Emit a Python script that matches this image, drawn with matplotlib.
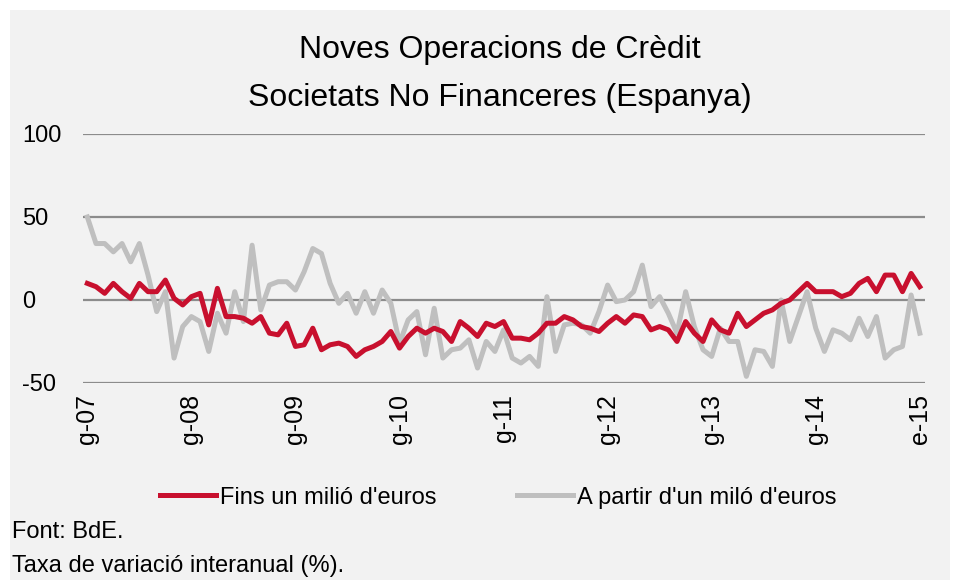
import matplotlib.pyplot as plt
from matplotlib.patches import Rectangle

# monthly series, jan 2007 .. jan 2015
fins_milio = [
    10, 8, 4, 10, 5, 1, 10, 5, 5, 12, 1, -3,
    2, 4, -15, 7, -10, -10, -11, -14, -10, -20, -21, -14,
    -28, -27, -17, -30, -27, -26, -28, -34, -30, -28, -25, -19,
    -29, -22, -17, -20, -17, -19, -25, -13, -17, -22, -14, -16,
    -13, -23, -23, -24, -20, -14, -14, -10, -12, -16, -17, -19,
    -14, -10, -14, -9, -10, -18, -16, -18, -25, -13, -20, -25,
    -12, -18, -20, -8, -16, -12, -8, -6, -2, 0, 5, 10,
    5, 5, 5, 2, 4, 10, 13, 5, 15, 15, 5, 16,
    8,
]
a_partir_milio = [
    50, 34, 34, 29, 34, 23, 34, 15, -7, 5, -35, -16,
    -10, -13, -31, -8, -20, 5, -13, 33, -6, 9, 11, 11,
    6, 17, 31, 28, 10, -2, 4, -8, 5, -8, 6, -2,
    -26, -12, -7, -33, -5, -35, -30, -29, -24, -41, -25, -31,
    -18, -35, -38, -34, -40, 2, -31, -15, -14, -15, -20, -7,
    9, -1, 0, 5, 21, -4, 2, -8, -20, 5, -16, -30,
    -34, -17, -25, -25, -46, -30, -31, -40, 0, -25, -10, 5,
    -17, -31, -18, -20, -24, -11, -22, -10, -35, -30, -28, 3,
    -20,
]
tick_labels = ['g-07', 'g-08', 'g-09', 'g-10', 'g-11', 'g-12', 'g-13', 'g-14', 'e-15']
y_ticks = [-50, 0, 50, 100]

plt.rcParams['font.family'] = ['Liberation Sans Narrow', 'Liberation Sans', 'DejaVu Sans']

bg = '#f2f2f2'
red = '#c8102e'
grey = '#bfbfbf'

fig = plt.figure(figsize=(9.54, 5.8), dpi=100, facecolor='white')
fig.patches.append(Rectangle((10 / 954, 0), 940 / 954, 570 / 580,
                             transform=fig.transFigure, facecolor=bg,
                             edgecolor='none', zorder=-10))

ax = fig.add_axes([0.087, 0.3397, 0.8826, 0.4293])
ax.set_facecolor(bg)
x = list(range(len(fins_milio)))
ax.plot(x, fins_milio, color=red, lw=3.6, label='Fins un milió d\'euros', zorder=3,
        solid_joinstyle='round')
ax.plot(x, a_partir_milio, color=grey, lw=3.6, label='A partir d\'un miló d\'euros', zorder=2,
        solid_joinstyle='round')

ax.set_ylim(-50, 100)
ax.set_xlim(-0.5, 96.6)
ax.set_yticks(y_ticks)
ax.set_yticklabels([str(v) for v in y_ticks], fontsize=17)
ax.set_xticks(range(0, 97, 12))
ax.set_xticklabels(tick_labels, rotation=90, fontsize=18)
ax.tick_params(axis='both', length=0)
ax.tick_params(axis='x', pad=8)
ax.tick_params(axis='y', pad=44)
for lbl in ax.get_yticklabels():
    lbl.set_horizontalalignment('left')
for v in y_ticks:
    ax.axhline(v, color='#8c8c8c', lw=1.6, zorder=1)
for s in ax.spines.values():
    s.set_visible(False)

fig.text(0.524, 0.914, 'Noves Operacions de Crèdit', ha='center', va='center', fontsize=23)
fig.text(0.524, 0.831, 'Societats No Financeres (Espanya)', ha='center', va='center', fontsize=23)

fig.legend(loc='center', bbox_to_anchor=(0.522, 0.142), ncol=2, frameon=False,
           fontsize=17, handlelength=2.4, handletextpad=0.15, columnspacing=3.4)

fig.text(0.013, 0.083, 'Font: BdE.', ha='left', va='center', fontsize=17)
fig.text(0.013, 0.024, 'Taxa de variació interanual (%).', ha='left', va='center', fontsize=17)

fig.savefig('out.png', dpi=100, facecolor=fig.get_facecolor())
